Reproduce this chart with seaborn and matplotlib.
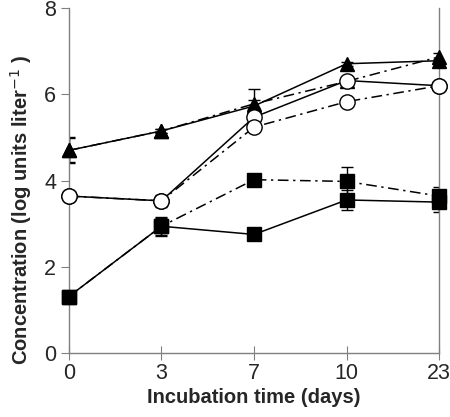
import matplotlib
matplotlib.use("Agg")
import matplotlib.pyplot as plt
import numpy as np
import pandas as pd
import seaborn as sns

# ----------------------------------------------------------------------------
# DATA
# ----------------------------------------------------------------------------
days = ["0", "3", "7", "10", "23"]

tri_solid = [4.70, 5.15, 5.73, 6.71, 6.78]
tri_dash = [4.70, 5.15, 5.78, 6.30, 6.87]
circ_solid = [3.64, 3.53, 5.47, 6.32, 6.20]
circ_dash = [3.64, 3.53, 5.24, 5.83, 6.20]
sq_solid = [1.31, 2.94, 2.75, 3.55, 3.50]
sq_dash = [1.31, 2.94, 4.02, 3.98, 3.64]

tri_solid_err = [0.30, 0.05, 0.40, 0.05, 0.05]
tri_dash_err = [0.28, 0.05, 0.10, 0.05, 0.10]
circ_solid_err = [0.05, 0.14, 0.10, 0.05, 0.05]
circ_dash_err = [0.05, 0.10, 0.05, 0.05, 0.05]
sq_solid_err = [0.05, 0.22, 0.05, 0.24, 0.24]
sq_dash_err = [0.05, 0.20, 0.05, 0.33, 0.20]

# ----------------------------------------------------------------------------
# PLOT
# ----------------------------------------------------------------------------
sns.set_style("ticks")
plt.rcParams["font.family"] = ["Liberation Sans", "DejaVu Sans"]

fig = plt.figure(figsize=(4.5, 4.17), dpi=100)
ax = fig.add_axes([0.153, 0.1535, 0.823, 0.827])

dashdot = (0, (7, 3, 1.5, 3))
series = [
    (tri_solid, tri_solid_err, "^", "black", "-", 10),
    (tri_dash, tri_dash_err, "^", "black", dashdot, 10),
    (circ_solid, circ_solid_err, "o", "white", "-", 11),
    (circ_dash, circ_dash_err, "o", "white", dashdot, 11),
    (sq_solid, sq_solid_err, "s", "black", "-", 9.5),
    (sq_dash, sq_dash_err, "s", "black", dashdot, 9.5),
]

x = np.arange(len(days))
for vals, err, mk, fc, ls, ms in series:
    ax.errorbar(x, vals, yerr=err, fmt="none", ecolor="black",
                elinewidth=1.0, capsize=4, capthick=1.0, zorder=2)
    df = pd.DataFrame({"x": x, "y": vals})
    sns.lineplot(data=df, x="x", y="y", ax=ax, color="black",
                 linestyle=ls, linewidth=1.1, marker=mk, markersize=ms,
                 markerfacecolor=fc, markeredgecolor="black",
                 markeredgewidth=1.0, zorder=3, clip_on=False)

ax.set_xlim(0, len(days) - 1)
ax.set_ylim(0, 8)
ax.set_xticks(x)
ax.set_xticklabels(days)
ax.set_yticks([0, 2, 4, 6, 8])

ax.set_xlabel("Incubation time (days)", fontsize=14.5, fontweight="bold",
              labelpad=3)
ax.set_ylabel("Concentration (log units liter$^{-1}$ )", fontsize=14.5,
              fontweight="bold")
ax.yaxis.set_label_coords(-0.093, 0.415)

for side in ["left", "right", "bottom"]:
    ax.spines[side].set_color("#808080")
    ax.spines[side].set_linewidth(1.0)
ax.spines["top"].set_visible(False)
ax.spines["right"].set_visible(True)

ax.tick_params(axis="y", direction="out", length=6, color="#808080",
               labelsize=15.5, pad=3)
ax.tick_params(axis="x", direction="inout", length=10, color="#808080",
               labelsize=15.5, pad=2)

fig.savefig("out.png", dpi=100)
